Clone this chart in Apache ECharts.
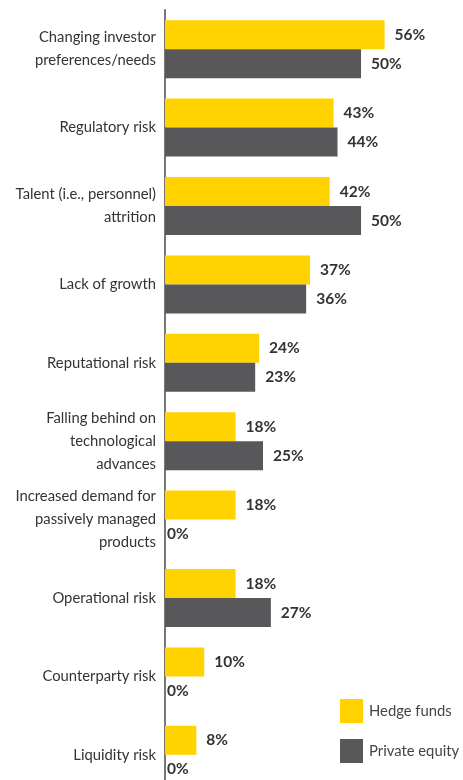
<!DOCTYPE html>
<html>
<head>
<meta charset="utf-8">
<script src="https://cdn.jsdelivr.net/npm/echarts@6/dist/echarts.min.js"></script>
<style>
  html, body { margin: 0; padding: 0; background: #fff; overflow: hidden; }
  /* the source figure is cropped at the bottom, so the canvas runs a little past the window */
  #chart { width: 463px; height: 796px; }
</style>
</head>
<body>
<div id="chart"></div>
<script>
// risk categories, top to bottom
const categories = [
  'Changing investor\npreferences/needs',
  'Regulatory risk',
  'Talent (i.e., personnel)\nattrition',
  'Lack of growth',
  'Reputational risk',
  'Falling behind on\ntechnological\nadvances',
  'Increased demand for\npassively managed\nproducts',
  'Operational risk',
  'Counterparty risk',
  'Liquidity risk'
];
const hedgeFunds = [56, 43, 42, 37, 24, 18, 18, 18, 10, 8];
const privateEquity = [50, 44, 50, 36, 23, 25, 0, 27, 0, 0];

const chart = echarts.init(document.getElementById('chart'));

const valueLabel = {
  show: true,
  position: 'right',
  distance: 10,
  formatter: '{c}%',
  fontFamily: 'Lato',
  fontWeight: 'bold',
  fontSize: 15.5,
  color: '#333'
};

// zero bars get their label right against the axis
const withLabels = vals => vals.map(v => v === 0 ? { value: v, label: { distance: 2 } } : v);

chart.setOption({
  animation: false,
  textStyle: { fontFamily: 'Lato' },
  grid: { left: 165, top: 10, width: 299, height: 784 },
  legend: {
    orient: 'vertical',
    left: 335,
    top: 694,
    itemWidth: 23,
    itemHeight: 24,
    itemGap: 16,
    icon: 'rect',
    textStyle: { fontSize: 14.8, color: '#444', padding: [0, 0, 0, 1] },
    data: ['Hedge funds', 'Private equity']
  },
  xAxis: {
    type: 'value',
    min: 0,
    max: 76,
    show: false
  },
  yAxis: {
    type: 'category',
    inverse: true,
    data: categories,
    axisLine: { show: true, lineStyle: { color: '#777', width: 2 } },
    axisTick: { show: false },
    axisLabel: {
      margin: 9,
      fontSize: 14.8,
      color: '#333',
      lineHeight: 23,
      align: 'right'
    }
  },
  series: [
    {
      name: 'Hedge funds',
      type: 'bar',
      data: withLabels(hedgeFunds),
      barWidth: 29,
      barGap: '0%',
      itemStyle: { color: '#FFD200' },
      label: valueLabel
    },
    {
      name: 'Private equity',
      type: 'bar',
      data: withLabels(privateEquity),
      barWidth: 29,
      barGap: '0%',
      itemStyle: { color: '#58585A' },
      label: valueLabel
    }
  ]
});
</script>
</body>
</html>
